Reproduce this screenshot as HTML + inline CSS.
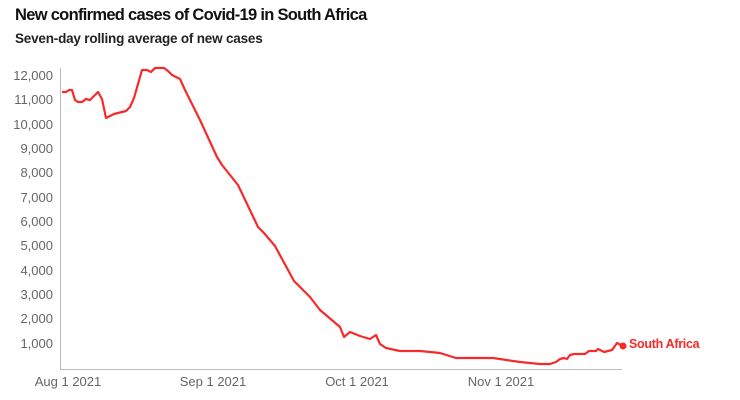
<!DOCTYPE html>
<html><head><style>
body{margin:0;background:#fff;width:740px;height:400px;overflow:hidden;font-family:"Liberation Sans",sans-serif}
.t{position:absolute;left:15px;top:6px;font-weight:bold;font-size:16.5px;color:#111;letter-spacing:-0.7px}
.s{position:absolute;left:15px;top:31px;font-weight:bold;font-size:13.5px;color:#222;letter-spacing:-0.2px}
</style></head><body>
<div class="t">New confirmed cases of Covid-19 in South Africa</div>
<div class="s">Seven-day rolling average of new cases</div>
<svg width="740" height="400" style="position:absolute;left:0;top:0">
<g font-family="Liberation Sans,sans-serif" font-size="13" fill="#666" text-anchor="end">
<text x="53" y="80">12,000</text><text x="53" y="104">11,000</text><text x="53" y="129">10,000</text>
<text x="53" y="153">9,000</text><text x="53" y="177">8,000</text><text x="53" y="202">7,000</text>
<text x="53" y="226">6,000</text><text x="53" y="250">5,000</text><text x="53" y="275">4,000</text>
<text x="53" y="299">3,000</text><text x="53" y="323">2,000</text><text x="53" y="348">1,000</text>
</g>
<g font-family="Liberation Sans,sans-serif" font-size="13" fill="#666" text-anchor="middle">
<text x="68" y="386">Aug 1 2021</text><text x="213" y="386">Sep 1 2021</text>
<text x="357" y="386">Oct 1 2021</text><text x="501" y="386">Nov 1 2021</text>
</g>
<line x1="60.5" y1="68" x2="60.5" y2="369" stroke="#bbb"/>
<line x1="60" y1="369.5" x2="622" y2="369.5" stroke="#bbb"/>
<polyline fill="none" stroke="#f52a2a" stroke-width="2.2" stroke-linejoin="round" points="62,92 66,92 69,90 72,90 75,100 78,102 82,102 86,99 90,100 94,96 98,92 102,99 106,118 110,116 114,114 118,113 122,112 126,111 130,107 134,98 138,84 142,70 147,70 151,72 155,68 160,68 164,68 168,71 172,75 176,77 180,79 185,90 200,120 217,157 222,165 238,185 258,227 264,233 275,246 294,281 310,297 320,310 340,327 344,337 350,332 360,336 370,339 376,335 380,344 386,348 400,351 420,351 440,353 456,358 480,358 493,358 520,362 540,364 550,364 556,362 560,359 564,358 567,359 570,355 574,354 585,354 589,351 596,351 598,349 604,352 612,350 617,343 621,345"/>
<circle cx="623" cy="346" r="3.5" fill="#f52a2a"/>
<text x="629" y="348" font-family="Liberation Sans,sans-serif" font-size="12.5" font-weight="bold" fill="#f52a2a" letter-spacing="-0.3">South Africa</text>
</svg>
</body></html>
